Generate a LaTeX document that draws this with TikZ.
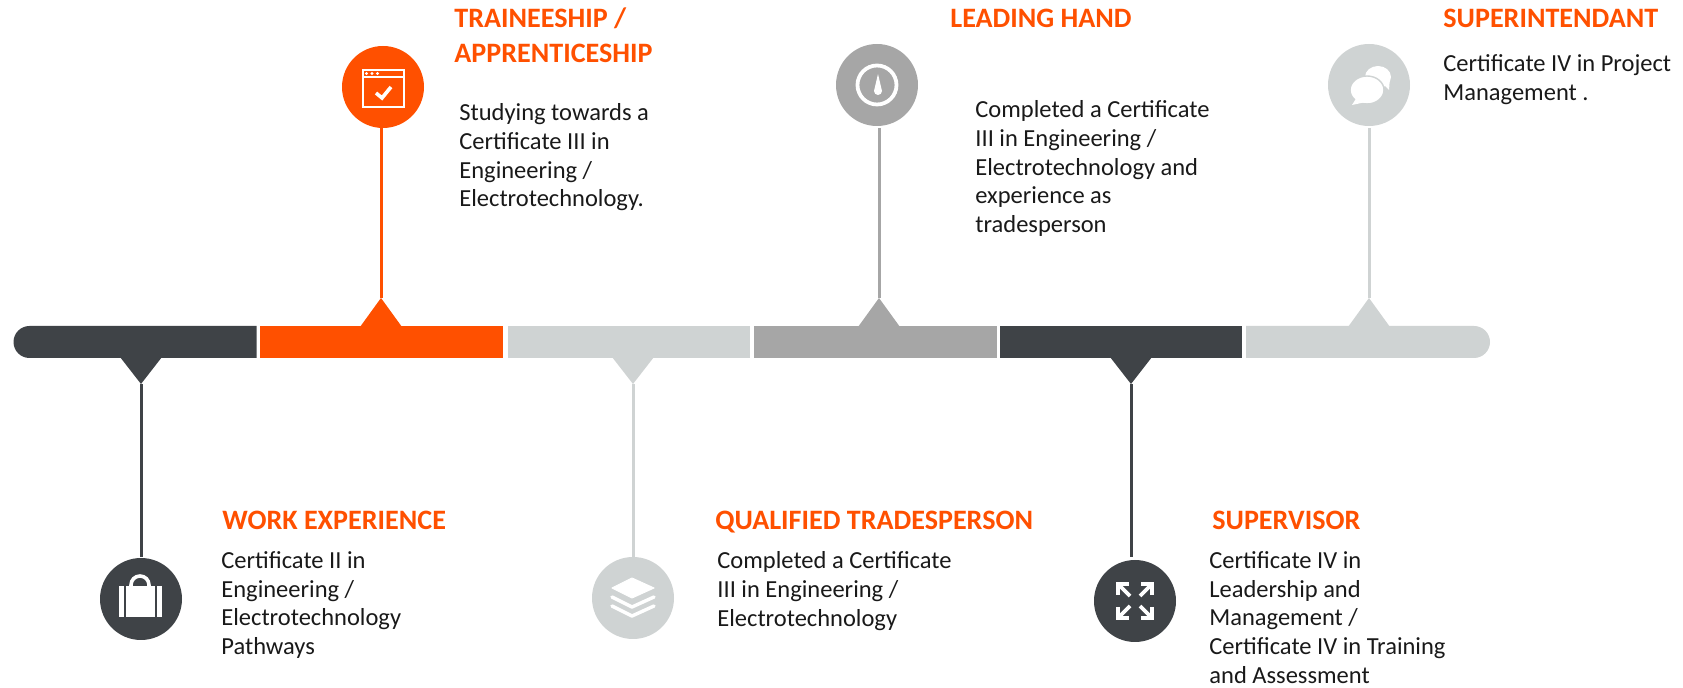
\documentclass[tikz,border=0pt]{standalone}
\usepackage{fontspec}
\setmainfont{Carlito}
\usetikzlibrary{shapes.misc}
\definecolor{orangebar}{HTML}{FF5000}
\definecolor{darkbar}{HTML}{3F4347}
\definecolor{midbar}{HTML}{A6A6A6}
\definecolor{lightbar}{HTML}{CFD3D3}
\tikzset{
	segbox/.style={fill=#1,draw=none,inner sep=0pt,minimum height=16pt},
	iconball/.style={circle,fill=#1,draw=none,inner sep=0pt,minimum size=41pt},
	heading/.style={anchor=north west,inner sep=0pt,align=left,text=orangebar,font=\fontsize{14.05}{17.5}\selectfont\bfseries,execute at begin node=\strut},
	bodytext/.style={anchor=north west,inner sep=0pt,align=left,text=black!90,font=\fontsize{12.25}{14.4}\selectfont,execute at begin node=\strut},
	stem/.style={draw=#1,line width=1.5pt}
}
\begin{document}
\begin{tikzpicture}[x=0.5pt,y=-0.5pt]
	\useasboundingbox (0,0) rectangle (1683,688);

	% the bar
	\path (135,342) node[segbox=darkbar,minimum width=121.5pt,shape=rounded rectangle,rounded rectangle east arc=none] (sega) {};
	\path (381.5,342) node[segbox=orangebar,minimum width=121.5pt] (segb) {};
	\path (629,342) node[segbox=lightbar,minimum width=121pt] (segc) {};
	\path (875,342) node[segbox=midbar,minimum width=121.5pt] (segd) {};
	\path (1121,342) node[segbox=darkbar,minimum width=121pt] (sege) {};
	\path (1368,342) node[segbox=lightbar,minimum width=122pt,shape=rounded rectangle,rounded rectangle west arc=none] (segf) {};

	% tips under and over the bar
	\coordinate (tipa) at (141,384);
	\coordinate (tipb) at (381,298);
	\coordinate (tipc) at (633,384);
	\coordinate (tipd) at (879,298);
	\coordinate (tipe) at (1131,384);
	\coordinate (tipf) at (1369,298);
	\path[fill=darkbar] (tipa) -- ++(-21,-27) -- ++(42,0) -- cycle;
	\path[fill=orangebar] (tipb) -- ++(-21,29) -- ++(42,0) -- cycle;
	\path[fill=lightbar] (tipc) -- ++(-21,-27) -- ++(42,0) -- cycle;
	\path[fill=midbar] (tipd) -- ++(-21,29) -- ++(42,0) -- cycle;
	\path[fill=darkbar] (tipe) -- ++(-21,-27) -- ++(42,0) -- cycle;
	\path[fill=lightbar] (tipf) -- ++(-21,29) -- ++(42,0) -- cycle;

	% circles
	\path (141,599) node[iconball=darkbar] (icona) {};
	\path (383,87) node[iconball=orangebar] (iconb) {};
	\path (633,598) node[iconball=lightbar] (iconc) {};
	\path (877,85) node[iconball=midbar] (icond) {};
	\path (1135,601) node[iconball=darkbar] (icone) {};
	\path (1369,85) node[iconball=lightbar] (iconf) {};

	% stems
	\path[stem=darkbar] (tipa) -- (tipa |- 0,557);
	\path[stem=orangebar] (tipb) -- (tipb |- iconb.south);
	\path[stem=lightbar] (tipc) -- (tipc |- 0,557);
	\path[stem=midbar] (tipd) -- (tipd |- 0,128);
	\path[stem=darkbar] (tipe) -- (tipe |- 0,557);
	\path[stem=lightbar] (tipf) -- (tipf |- 0,128);

	% briefcase
	\begin{scope}[shift={(icona)}]
		\path[fill=white] (-22,-13) rectangle (-17,18);
		\path[fill=white] (-15,-13) rectangle (14,18);
		\path[fill=white] (16,-13) rectangle (21,18);
		\path[draw=white,line width=1.8pt] (-10,-13) -- (-10,-14) arc (180:360:9) -- (8,-13);
	\end{scope}

	% browser window
	\begin{scope}[shift={(iconb)}]
		\path[draw=white,line width=1.1pt] (-20,-17) rectangle (21,20);
		\path[draw=white,line width=1.1pt] (-20,-10) -- (21,-10);
		\path[fill=white] (-16.5,-13.5) circle (1.7);
		\path[fill=white] (-11,-13.5) circle (1.7);
		\path[fill=white] (-5.5,-13.5) circle (1.7);
		\path[draw=white,line width=1.8pt] (-7,6) -- (-1,11) -- (8,0);
	\end{scope}

	% stack of sheets
	\begin{scope}[shift={(iconc)}]
		\path[fill=white,draw=white,line width=0.5pt,line join=round] (-21,-10) -- (-1,-20) -- (21,-10) -- (-1,0) -- cycle;
		\path[draw=white,line width=1.7pt,line cap=round,line join=round] (-21,-1) -- (-1,9) -- (21,-1);
		\path[draw=white,line width=1.7pt,line cap=round,line join=round] (-21,8) -- (-1,18) -- (21,8);
	\end{scope}

	% gauge
	\begin{scope}[shift={(icond)}]
		\path[draw=white,line width=1.9pt] (0,0) circle (19.5);
		\path[fill=white] (1,-11) -- (5,6) arc (0:180:4) -- cycle;
	\end{scope}

	% arrows out of the centre
	\begin{scope}[shift={(icone)}]
		\path[draw=white,line width=1.9pt] (-5,-5) -- (-16,-16);
		\path[draw=white,line width=1.9pt] (5,-5) -- (16,-16);
		\path[draw=white,line width=1.9pt] (-5,5) -- (-16,16);
		\path[draw=white,line width=1.9pt] (5,5) -- (16,16);
		\path[draw=white,line width=1.9pt] (-17,-6) -- (-17,-17) -- (-6,-17);
		\path[draw=white,line width=1.9pt] (17,-6) -- (17,-17) -- (6,-17);
		\path[draw=white,line width=1.9pt] (-17,6) -- (-17,17) -- (-6,17);
		\path[draw=white,line width=1.9pt] (17,6) -- (17,17) -- (6,17);
	\end{scope}

	% speech bubbles
	\begin{scope}[shift={(iconf)}]
		\path[fill=white] (9,-8) ellipse (13 and 11);
		\path[fill=white] (13,-2) -- (20,5) -- (21,-8) -- cycle;
		\path[fill=white,draw=lightbar,line width=0.7pt] (-2,5) ellipse (17 and 14);
		\path[fill=white] (-12,12) -- (-17,20) -- (-3,17) -- cycle;
	\end{scope}

	% headings and texts
	\path (454,7) node[heading] (headb) {TRAINEESHIP /\\APPRENTICESHIP};
	\path (459,103) node[bodytext] (textb) {Studying towards a\\Certificate III in\\Engineering /\\Electrotechnology.};
	\path (950,3) node[heading] (headd) {LEADING HAND};
	\path (975,100) node[bodytext] (textd) {Completed a Certificate\\III in Engineering /\\Electrotechnology and\\experience as\\tradesperson};
	\path (1443,3) node[heading] (headf) {SUPERINTENDANT};
	\path (1443,54) node[bodytext] (textf) {Certificate IV in Project\\Management .};
	\path (222,505) node[heading] (heada) {WORK EXPERIENCE};
	\path (221,551) node[bodytext] (texta) {Certificate II in\\Engineering /\\Electrotechnology\\Pathways};
	\path (715,505) node[heading] (headc) {QUALIFIED TRADESPERSON};
	\path (717,551) node[bodytext] (textc) {Completed a Certificate\\III in Engineering /\\Electrotechnology};
	\path (1212,505) node[heading] (heade) {SUPERVISOR};
	\path (1209,551) node[bodytext] (texte) {Certificate IV in\\Leadership and\\Management /\\Certificate IV in Training\\and Assessment};
\end{tikzpicture}
\end{document}
